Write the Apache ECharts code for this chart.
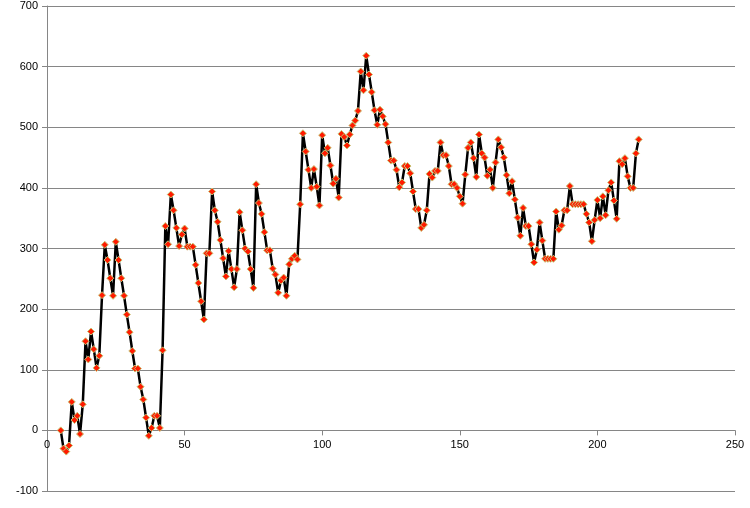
<!DOCTYPE html>
<html>
<head>
<meta charset="utf-8">
<script src="https://cdn.jsdelivr.net/npm/echarts@6/dist/echarts.min.js"></script>
<style>
  html, body { margin: 0; padding: 0; background: #fff; }
  #chart { width: 750px; height: 508px; }
</style>
</head>
<body>
<div id="chart"></div>
<script>
// first x of the series, points follow one per unit
const firstX = 5

// values, one per x step
const values = [
  0, -30, -35, -25, 47, 17, 24, -6, 43, 147,
  117, 163, 134, 103, 123, 223, 306, 281, 251, 222,
  311, 281, 251, 222, 191, 162, 131, 102, 102, 72,
  51, 21, -9, 4, 24, 24, 4, 132, 337, 307,
  389, 363, 334, 304, 323, 333, 303, 303, 303, 273,
  243, 213, 183, 292, 292, 394, 363, 344, 314, 284,
  254, 296, 266, 236, 266, 360, 330, 300, 295, 266,
  235, 406, 375, 357, 327, 297, 297, 267, 257, 227,
  247, 252, 222, 274, 283, 288, 282, 373, 490, 460,
  430, 400, 431, 402, 371, 487, 457, 466, 437, 407,
  415, 384, 489, 484, 470, 488, 503, 511, 527, 592,
  561, 618, 587, 558, 528, 504, 529, 518, 505, 475,
  445, 445, 430, 401, 409, 436, 436, 424, 394, 365,
  365, 334, 339, 363, 423, 417, 428, 428, 475, 454,
  454, 436, 406, 406, 400, 386, 374, 422, 466, 475,
  449, 418, 488, 457, 450, 420, 430, 400, 442, 480,
  467, 450, 421, 391, 411, 381, 351, 321, 367, 337,
  337, 307, 277, 298, 343, 313, 283, 283, 283, 283,
  361, 331, 338, 363, 363, 403, 373, 373, 373, 373,
  373, 357, 343, 312, 347, 380, 350, 386, 355, 396,
  409, 379, 349, 444, 439, 449, 419, 400, 400, 457,
  480
]

const xTicks = { min: 0, max: 250, interval: 50 }
const yTicks = { min: -100, max: 700, interval: 100 }

const gridGrey = '#868686'
const labelFont = { color: '#000', fontSize: 11, fontFamily: 'Liberation Sans' }

const grid = { left: 47, right: 15, top: 6, bottom: 17 }
// horizontal axis sits on y = 0, like Excel does it: shift it up from the bottom edge
const plotHeight = 508 - grid.top - grid.bottom
const zeroOffset = -plotHeight * (0 - yTicks.min) / (yTicks.max - yTicks.min)

const chart = echarts.init(document.getElementById('chart'), null, { renderer: 'canvas' })

const option = {
  animation: false,
  backgroundColor: '#fff',
  grid: grid,
  xAxis: {
    type: 'value',
    position: 'bottom',
    offset: zeroOffset,
    min: xTicks.min,
    max: xTicks.max,
    interval: xTicks.interval,
    axisLine: { show: true, onZero: false, lineStyle: { color: gridGrey, width: 1 } },
    axisTick: { show: true, length: 5, lineStyle: { color: gridGrey } },
    axisLabel: { ...labelFont, margin: 9 },
    splitLine: { show: false }
  },
  yAxis: {
    type: 'value',
    min: yTicks.min,
    max: yTicks.max,
    interval: yTicks.interval,
    axisLine: { show: true, onZero: false, lineStyle: { color: gridGrey, width: 1 } },
    axisTick: { show: true, length: 5, lineStyle: { color: gridGrey } },
    axisLabel: { ...labelFont, margin: 9 },
    splitLine: { show: true, lineStyle: { color: gridGrey, width: 1 } }
  },
  series: [
    {
      type: 'line',
      data: values.map((v, i) => [firstX + i, v]),
      symbol: 'diamond',
      symbolSize: 7,
      lineStyle: { color: '#000', width: 2.5 },
      itemStyle: { color: '#ff1a00', borderColor: '#c8c070', borderWidth: 1 }
    }
  ]
}

chart.setOption(option)
</script>
</body>
</html>
